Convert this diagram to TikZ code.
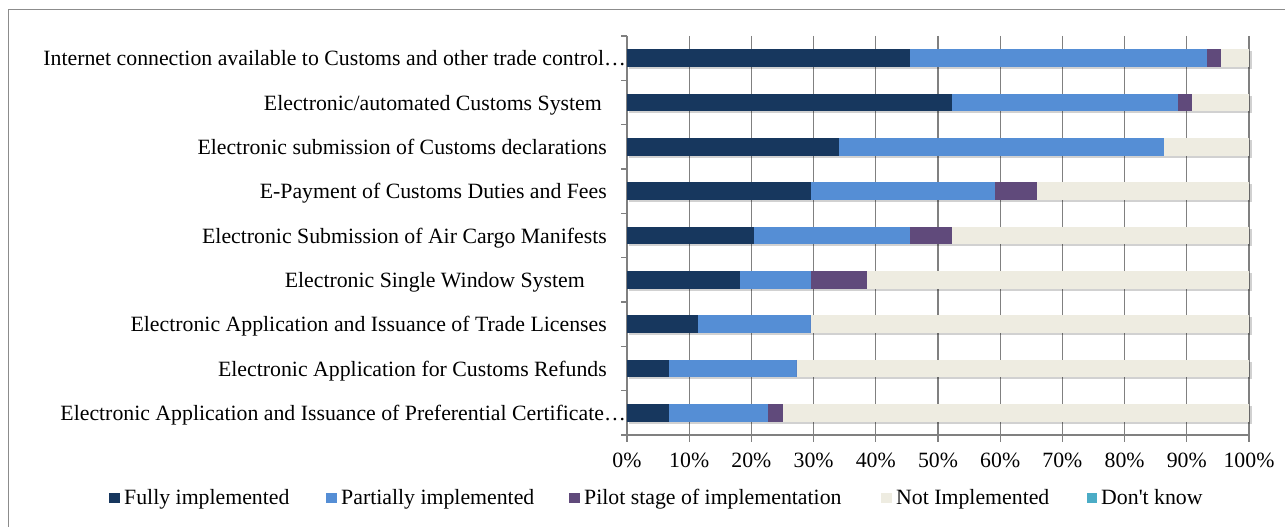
\documentclass[tikz,border=0pt]{standalone}
\usepackage{fontspec}
\setmainfont{Liberation Serif}[Ligatures=TeXOff]
\definecolor{cfull}{HTML}{17375E}
\definecolor{cpart}{HTML}{558ED5}
\definecolor{cpilot}{HTML}{604A7B}
\definecolor{cnot}{HTML}{EEECE1}
\definecolor{cdk}{HTML}{4BACC6}
\definecolor{cgrid}{HTML}{808080}
\definecolor{cframe}{HTML}{8C8C8C}
\tikzset{
  lbl/.style={anchor=base east, inner sep=0pt, font=\fontsize{21.8}{24}\selectfont, text=black},
  tlbl/.style={anchor=north, inner sep=0pt, font=\fontsize{21.8}{24}\selectfont, text=black},
  leg/.style={anchor=base west, inner sep=0pt, font=\fontsize{21.8}{24}\selectfont, text=black},
  grid/.style={draw=cgrid, line width=1.3pt},
  shadow/.style={fill=black, opacity=0.18}
}
\begin{document}
\begin{tikzpicture}[x=1pt,y=-1pt]
\useasboundingbox (0,0) rectangle (1285,527);
% outer frame
\draw[cframe, line width=1.6pt] (8.5,527) -- (8.5,9.5) -- (1285,9.5);
% vertical gridlines
\foreach \i in {1,...,10} {
  \draw[grid] ({627+62.2*\i},36) -- ({627+62.2*\i},442);
}
% axes
\draw[grid] (627,36) -- (627,442);
\draw[grid] (627,435) -- (1249,435);
\foreach \j in {0,...,9} {
  \draw[grid] (621,{36+44.333*\j}) -- (627,{36+44.333*\j});
}
\draw[grid] (621,435) -- (627,435);
% bars
\foreach \r/\a/\b/\c in {1/20/41/42, 2/23/39/40, 3/15/38/38, 4/13/26/29, 5/9/20/23, 6/8/13/17, 7/5/13/13, 8/3/12/12, 9/3/10/11} {
  \pgfmathsetmacro{\yc}{36+44.333*(\r-1)+22.17}
  \pgfmathsetmacro{\xa}{627+14.1364*\a}
  \pgfmathsetmacro{\xb}{627+14.1364*\b}
  \pgfmathsetmacro{\xc}{627+14.1364*\c}
  \fill[shadow] (629,\yc-6.7) rectangle (1251.5,\yc+10.7);
  \fill[cfull] (627,\yc-8.7) rectangle (\xa,\yc+8.7);
  \fill[cpart] (\xa,\yc-8.7) rectangle (\xb,\yc+8.7);
  \fill[cpilot] (\xb,\yc-8.7) rectangle (\xc,\yc+8.7);
  \fill[cnot] (\xc,\yc-8.7) rectangle (1249,\yc+8.7);
}
% category labels
\node[lbl] (l1) at (626,65.8) {Internet connection available to Customs and other trade control\ldots};
\node[lbl] (l2) at (602,110.1) {Electronic/automated Customs System};
\node[lbl] (l3) at (607,154.4) {Electronic submission of Customs declarations};
\node[lbl] (l4) at (607,198.8) {E-Payment of Customs Duties and Fees};
\node[lbl] (l5) at (607,243.1) {Electronic Submission of Air Cargo Manifests};
\node[lbl] (l6) at (585,287.4) {Electronic Single Window System};
\node[lbl] (l7) at (607,331.8) {Electronic Application and Issuance of Trade Licenses};
\node[lbl] (l8) at (607,376.1) {Electronic Application for Customs Refunds};
\node[lbl] (l9) at (626,420.4) {Electronic Application and Issuance of Preferential Certificate\ldots};
% x tick labels
\foreach \i in {0,...,10} {
  \pgfmathtruncatemacro{\pc}{10*\i}
  \draw[grid] ({627+62.2*\i},435) -- ({627+62.2*\i},442);
  \node[tlbl] (t\i) at ({627+62.2*\i},453) {\pc\%};
}
% legend
\fill[cfull] (109,493) rectangle (120,503);
\node[leg] (g1) at (124,504.5) {Fully implemented};
\fill[cpart] (326,493) rectangle (337,503);
\node[leg] (g2) at (341,504.5) {Partially implemented};
\fill[cpilot] (569,493) rectangle (580,503);
\node[leg] (g3) at (584,504.5) {Pilot stage of implementation};
\fill[cnot] (881,493) rectangle (892,503);
\node[leg] (g4) at (896,504.5) {Not Implemented};
\fill[cdk] (1087,493) rectangle (1097,503);
\node[leg] (g5) at (1101,504.5) {Don't know};
\end{tikzpicture}
\end{document}
